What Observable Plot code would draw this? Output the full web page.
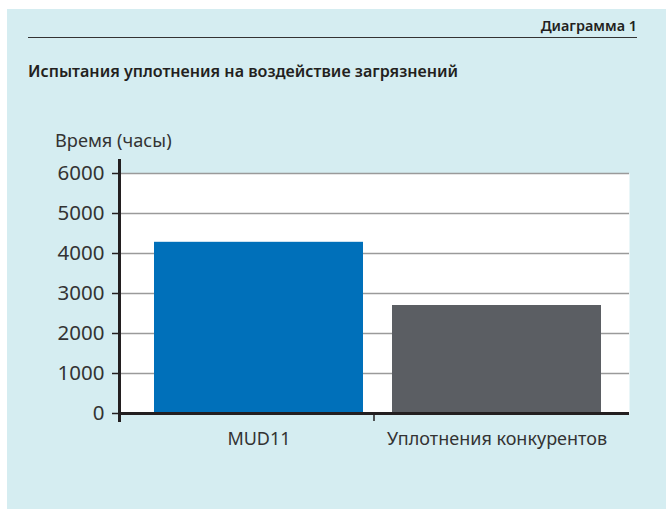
<!DOCTYPE html>
<html>
<head>
<meta charset="utf-8">
<script src="https://cdn.jsdelivr.net/npm/d3@7"></script>
<script src="https://cdn.jsdelivr.net/npm/@observablehq/plot@0.6"></script>
<style>
  html, body { margin: 0; padding: 0; background: #ffffff; }
  body { width: 666px; height: 509px; position: relative; overflow: hidden; font-family: "Noto Sans", Roboto, sans-serif; }
  #panel { position: absolute; left: 7px; top: 9px; width: 659px; height: 500px; background: #d5edf1; }
  #hdr { position: absolute; left: 28px; top: 15px; width: 609px; height: 22px; border-bottom: 1.5px solid #333; text-align: right; font-weight: 600; font-size: 14.4px; color: #231f20; line-height: 22px; }
  #sub { position: absolute; left: 28px; top: 60px; font-weight: 600; font-size: 16.1px; color: #231f20; }
  #ylab { position: absolute; left: 55px; top: 128px; font-size: 18.2px; color: #333; }
  #chart { position: absolute; left: 0; top: 120px; }
</style>
</head>
<body>
<div id="panel"></div>
<div id="hdr">Диаграмма 1</div>
<div id="sub">Испытания уплотнения на воздействие загрязнений</div>
<div id="ylab">Время (часы)</div>
<div id="chart"></div>
<script>
const categories = ["MUD11", "Уплотнения конкурентов"];
const values = [4280, 2700];
const colors = ["#0070ba", "#5b5e63"];
const yTicks = [0, 1000, 2000, 3000, 4000, 5000, 6000];

const data = categories.map((c, i) => ({category: c, value: values[i], color: colors[i]}));

const plot = Plot.plot({
  width: 666,
  height: 350,
  marginLeft: 119,
  marginRight: 37,
  marginTop: 53,
  marginBottom: 57,
  style: {background: "transparent", fontFamily: "'Noto Sans', Roboto, sans-serif", color: "#333"},
  x: {domain: categories, paddingInner: 0.122, paddingOuter: 0.132, align: 0.556, label: null},
  y: {domain: [0, 6000], label: null},
  marks: [
    Plot.frame({fill: "white", stroke: null}),
    Plot.gridY(yTicks, {stroke: "#9a9a9a", strokeOpacity: 1, strokeWidth: 1.5}),
    Plot.barY(data, {x: "category", y: "value", fill: "color"}),
    Plot.ruleY([0], {stroke: "#231f20", strokeWidth: 3}),
    Plot.frame({anchor: "left", stroke: "#231f20", strokeWidth: 3, insetTop: -13, insetBottom: -7}),
    Plot.axisY(yTicks, {tickSize: 7, tickPadding: 8, fontSize: 20.5, stroke: "#231f20", strokeWidth: 1.5, fill: "#333", tickFormat: d => String(d)}),
    Plot.axisX({tickSize: 0, tickPadding: 18.5, fontSize: 18, fill: "#333"})
  ]
});
document.getElementById("chart").appendChild(plot);

// category boundary ticks (Excel-style), positioned from the x scale's range
const xs = plot.scale("x");
const svg = d3.select(plot);
const y0 = plot.scale("y").apply(0);
const r0 = xs.range[0], r1 = xs.range[1];
categories.forEach((c, i) => {
  const x = r0 + i * (r1 - r0) / categories.length;
  svg.append("line").attr("x1", x).attr("x2", x).attr("y1", y0).attr("y2", y0 + 8)
    .attr("stroke", "#231f20").attr("stroke-width", 1.5);
});
</script>
</body>
</html>
